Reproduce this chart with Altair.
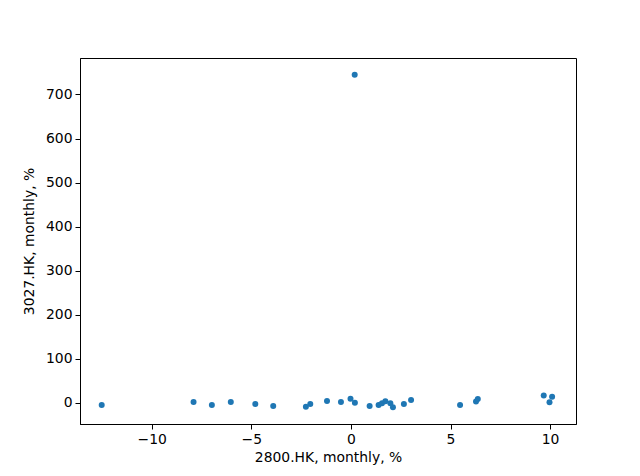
import altair as alt
import pandas as pd

x_vals = [-12.51, -7.90, -6.98, -6.03, -4.80, -3.90, -2.26, -2.04, -1.20, -0.50,
          -0.02, 0.20, 0.19, 0.94, 1.39, 1.56, 1.73, 1.98, 2.11, 2.66, 3.02,
          5.48, 6.28, 6.37, 9.68, 9.97, 10.10]
y_vals = [-4.5, 2.3, -4.5, 2.3, -2.3, -6.8, -8.4, -2.3, 4.5, 2.3,
          9.3, 0.2, 745.0, -6.8, -4.5, -0.9, 3.6, -0.9, -10.0, -2.3, 6.8,
          -4.5, 3.0, 9.1, 16.6, 1.4, 14.3]
x_ticks = [-10, -5, 0, 5, 10]
y_ticks = [0, 100, 200, 300, 400, 500, 600, 700]

df = pd.DataFrame({"x": x_vals, "y": y_vals})

font = "DejaVu Sans"

chart = alt.Chart(df).mark_circle(size=36, opacity=1, color="#1f77b4").encode(
    x=alt.X("x:Q", title="2800.HK, monthly, %",
            scale=alt.Scale(domain=[-13.6, 11.3], nice=False, zero=False),
            axis=alt.Axis(values=x_ticks, grid=False, tickSize=5, labelPadding=3,
                          titlePadding=5, format="d")),
    y=alt.Y("y:Q", title="3027.HK, monthly, %",
            scale=alt.Scale(domain=[-47.8, 782.8], nice=False, zero=False),
            axis=alt.Axis(values=y_ticks, grid=False, tickSize=5, labelPadding=3,
                          titlePadding=9, format="d")),
).properties(
    width=496, height=366,
    autosize=alt.AutoSizeParams(type="none"),
    padding={"left": 72, "top": 50, "right": 56, "bottom": 44},
).configure_view(
    stroke="black", strokeWidth=1
).configure_axis(
    domainColor="black", tickColor="black", labelColor="black", titleColor="black",
    labelFont=font, titleFont=font, labelFontSize=13.9, titleFontSize=13.9,
    titleFontWeight="normal", domainWidth=1, tickWidth=1
)

chart.save("out.html", embed_options={"renderer": "svg", "actions": False})
